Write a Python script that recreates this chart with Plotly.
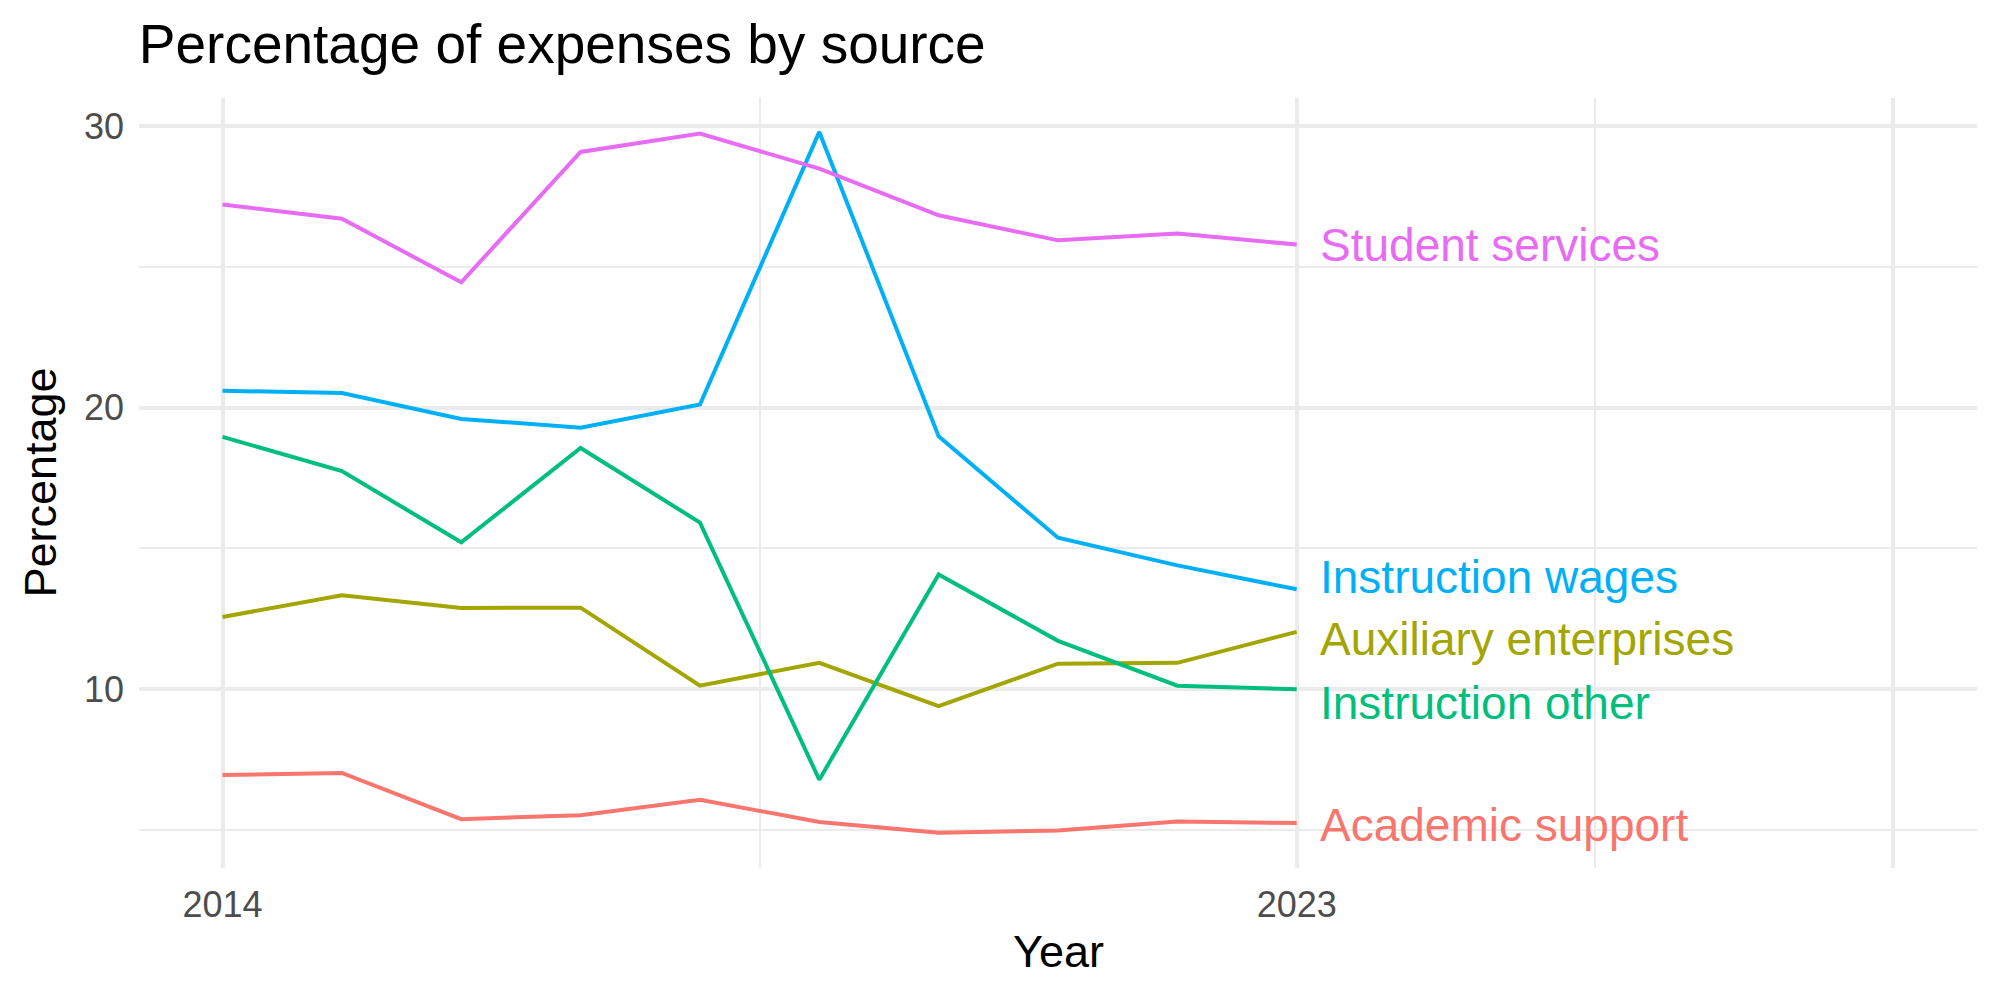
import plotly.graph_objects as go

years = [2014, 2015, 2016, 2017, 2018, 2019, 2020, 2021, 2022, 2023]

series_names = ["Academic support", "Auxiliary enterprises", "Instruction other",
                "Instruction wages", "Student services"]

academic_support = [6.96, 7.03, 5.39, 5.53, 6.08, 5.29, 4.91, 4.99, 5.31, 5.25]
auxiliary_enterprises = [12.57, 13.34, 12.89, 12.90, 10.13, 10.94, 9.40, 10.91, 10.94, 12.04]
instruction_other = [18.96, 17.75, 15.22, 18.57, 15.92, 6.79, 14.08, 11.72, 10.13, 10.00]
instruction_wages = [20.60, 20.52, 19.60, 19.29, 20.11, 29.79, 18.98, 15.38, 14.40, 13.55]
student_services = [27.21, 26.71, 24.45, 29.08, 29.73, 28.49, 26.83, 25.94, 26.18, 25.79]

# label positions (repelled) at the right end of each line
label_y = [5.20, 11.77, 9.51, 13.99, 25.79]

x_tickvals = [2014, 2023, 2028]
x_ticktext = ["2014", "2023", ""]
x_minor = [2018.5, 2025.5]
y_tickvals = [10, 20, 30]
y_minor = [5, 15, 25]

colors = ["#F8766D", "#A3A500", "#00BF7D", "#00B0F6", "#E76BF3"]
values = [academic_support, auxiliary_enterprises, instruction_other,
          instruction_wages, student_services]

FONT = "Liberation Sans, Arial, sans-serif"

fig = go.Figure()
for name, vals, col in zip(series_names, values, colors):
    fig.add_trace(go.Scatter(x=years, y=vals, mode="lines", name=name,
                             line=dict(color=col, width=4), showlegend=False))

for name, ly, col in zip(series_names, label_y, colors):
    fig.add_annotation(x=2023.18, y=ly, xref="x", yref="y", text=name,
                       showarrow=False, xanchor="left", yanchor="middle",
                       font=dict(family=FONT, size=46, color=col))

L, R, T, B = 138.8, 23, 97.7, 132.3
W, H = 2000, 1000
pw = W - L - R
ph = H - T - B

# axis titles
fig.add_annotation(x=0.5, y=-(951.1 - (H - B)) / ph, xref="paper", yref="paper",
                   text="Year", showarrow=False, xanchor="center", yanchor="middle",
                   font=dict(family=FONT, size=45, color="black"))
fig.add_annotation(x=(39.4 - L) / pw, y=0.5, xref="paper", yref="paper",
                   text="Percentage", showarrow=False, textangle=-90,
                   xanchor="center", yanchor="middle",
                   font=dict(family=FONT, size=45, color="black"))

grid = "#EBEBEB"
fig.update_layout(
    width=W, height=H,
    margin=dict(l=L, r=R, t=T, b=B, pad=0),
    paper_bgcolor="white", plot_bgcolor="white",
    title=dict(text="Percentage of expenses by source", x=L / W, xanchor="left",
               xref="container", yref="container", y=1 - 63.3 / H, yanchor="bottom",
               font=dict(family=FONT, size=55, color="black")),
    xaxis=dict(range=[2013.3, 2028.7], tickmode="array", tickvals=x_tickvals,
               ticktext=x_ticktext, showgrid=True, gridcolor=grid, gridwidth=4.2,
               zeroline=False, showline=False, ticks="", ticklabelstandoff=12,
               tickfont=dict(family=FONT, size=36, color="#4D4D4D"),
               minor=dict(tickmode="array", tickvals=x_minor, showgrid=True,
                          gridcolor=grid, gridwidth=2.2, ticks=""),
               fixedrange=True),
    yaxis=dict(range=[3.656, 30.994], tickmode="array", tickvals=y_tickvals,
               showgrid=True, gridcolor=grid, gridwidth=4.2,
               zeroline=False, showline=False, ticks="", ticklabelstandoff=14,
               tickfont=dict(family=FONT, size=36, color="#4D4D4D"),
               minor=dict(tickmode="array", tickvals=y_minor, showgrid=True,
                          gridcolor=grid, gridwidth=2.2, ticks=""),
               fixedrange=True),
)

fig.write_html("out.html")
